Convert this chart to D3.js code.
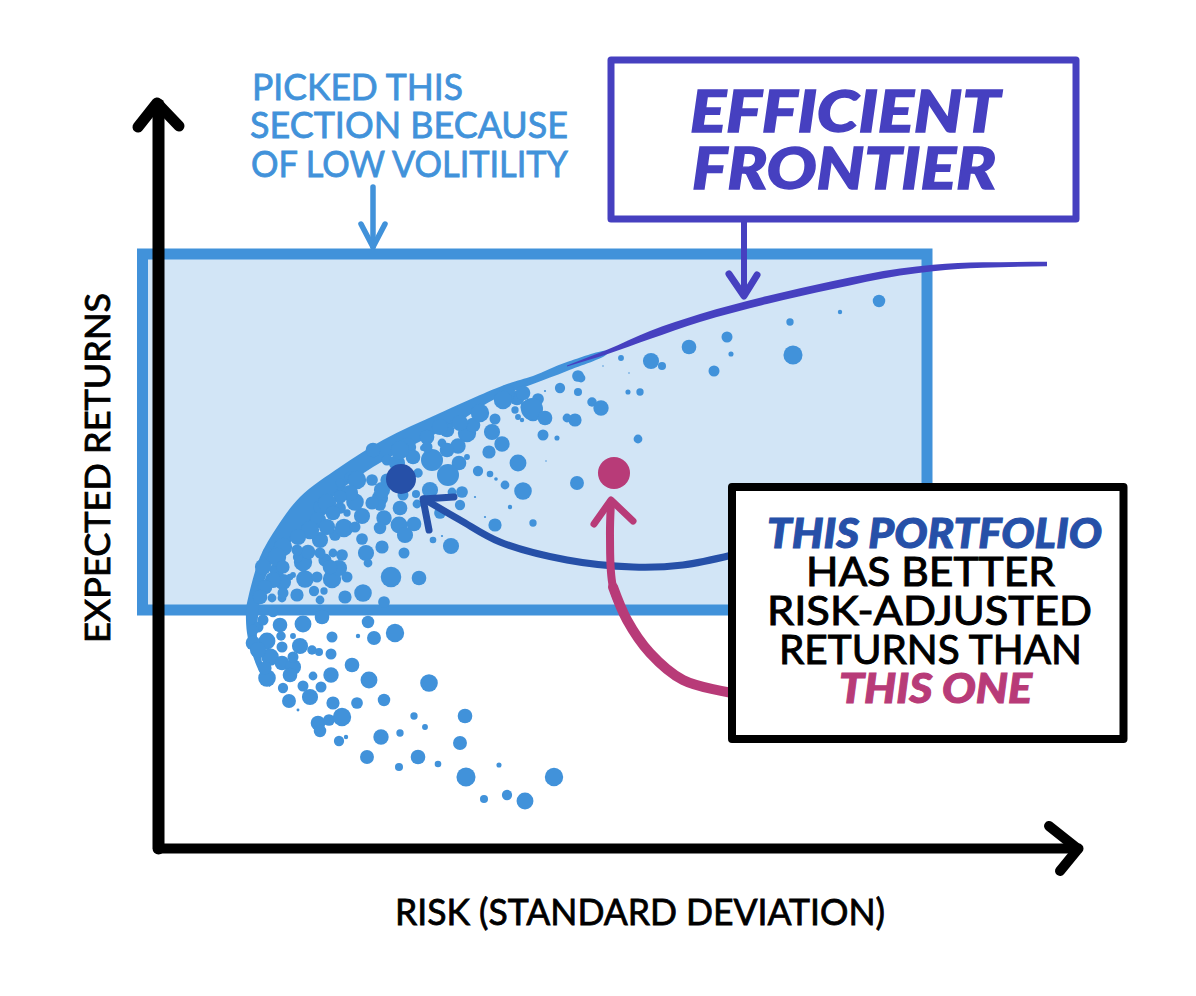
<!DOCTYPE html>
<html>
<head>
<meta charset="utf-8">
<script src="https://cdn.jsdelivr.net/npm/d3@7"></script>
<style>
  html, body { margin: 0; background: #fff; }
  svg { display: block; }
  text { font-family: Lato, "Open Sans", sans-serif; }
</style>
</head>
<body>
<div id="chart"></div>
<script>
// portfolios: [risk, return, size]
const portfolios = [
  [122,223,20],[145,224,23],[164,231,20],[210,226,17],[237,215,25],[100,221,15],[123,212,13],[135,212,8],
  [174,211,15],[200,212,6],[216,210,19],[109,207,23],[124,201,15],[142,202,22],[154,198,13],[161,196,11],
  [173,194,15],[112,191,24],[124,185,20],[135,181,22],[132,173,20],[194,183,20],[211,168,23],[271,165,24],
  [109,170,24],[125,160,14],[145,162,15],[155,172,12],[173,173,21],[163,161,15],[152,151,22],[131,147,19],
  [175,145,18],[199,145,16],[226,148,17],[140,138,4],[160,125,20],[162,117,17],[171,128,16],[184,131,25],
  [256,132,10],[267,121,8],[307,132,20],[181,107,14],[188,111,6],[223,111,21],[242,115,10],[302,105,19],
  [209,91,19],[260,91,20],[241,81,11],[280,84,9],[341,83,7],[308,71,26],[396,71,25],[326,49,11],[349,53,14],[367,47,23],
  [360,385,23],[365,357,24],[344,404,21],[331,396,18],[320,377,14],[332,374,9],[347,363,12],[338,369,5],
  [337,323,18],[352,341,6],[375,325,10],[327,331,3],[317,351,3],[334,416,22],[337,429,15],[309,415,25],
  [300,402,21],[284,405,12],[274,388,30],[301,385,20],[309,391,8],[290,373,30],[260,375,13],[272,358,22],
  [258,354,11],[304,356,16],[294,356,12],[302,343,14],[282,335,16],[245,353,15],[242,340,20],[259,344,12],
  [226,330,21],[222,320,17],[241,323,23],[256,324,20],[247,313,22],[204,332,22],[222,350,22],[222,343,16],
  [204,309,16],[224,301,18],[293,302,22],[275,308,9],[284,312,3],[246,295,15],[208,295,22],[210,285,12],
  [233,271,28],[261,270,20],[205,255,24],[226,246,16],[187,251,18],[156,257,14],[166,257,10],[139,253,18],
  [147,269,24],[174,269,25],[181,280,22],[167,288,18],[175,295,12],[184,293,16],[145,286,25],[150,296,20],
  [162,308,22],[177,313,16],[186,320,25],[197,321,15],[182,340,16],[189,335,10],[197,346,24],[214,368,16],
  [224,358,22],[184,358,14],[125,266,22],[119,278,20],[135,273,8],[124,250,12],[114,250,12],[162,248,12],
  [110,295,15],[140,291,14],[132,271,9],[164,338,15],[149,321,10],[357,438,10],[369,441,18],[375,436,25],
  [360,431,8],[364,428,6],[315,423,20],[295,425,8],[265,400,8],[215,398,20],[229,388,15],[249,401,25],
  [269,411,20],[289,418,20],[162,341,18],[139,311,15],[192,371,15],
  [721,547,17],[682,536,6],[632,526,10],[635,493,26],[569,511,15],[573,494,7],[531,501,20],[493,487,22],
  [504,482,11],[463,490,8],[556,477,15],[445,482,2],[471,475,2],[420,472,16],[423,470,12],[402,460,14],
  [420,456,11],[380,449,16],[374,439,30],[387,430,20],[434,446,13],[443,440,21],[470,456,7],[482,456,10],
  [417,428,18],[409,430,12],[385,413,15],[399,410,7],[480,409,12],[388,387,2],[419,365,19],[359,450,20],
  [349,455,22],[387,457,3],
  // the crowded part, blobs run together here
  [199,368,25],[192,355,22],[182,351,18],[169,345,25],[175,335,20],[160,328,22],[152,318,25],[169,321,22],
  [140,311,22],[139,298,15],[125,301,25],[119,291,25],[115,268,22],[105,281,22],[125,281,18],[107,261,20],
  [125,255,15],[102,251,20],[229,368,18],[239,385,22],[255,391,20],[269,401,15],[242,398,25],[289,398,20],
  [282,421,22],[302,425,22],[322,435,25],[345,448,25],[365,455,20],[214,345,18],[182,365,12],[162,295,15],
  [172,281,20],[189,271,15],[159,271,15],[95,205,20],[100,198,22],[95,218,15],[107,180,18],[135,191,15],
  [105,228,15],[115,236,14]
];
const betterPortfolio = [243, 369, 44];
const worsePortfolio = [456, 375, 47];

// crowded edge of the cloud: outer side then back along the inner side
const edgeOuter = [[112,161],[102,175],[94,195],[89,215],[88,238],[89,245],[102,291],[119,321],[142,351],[182,381],[225,408],[282,435],[349,464],[375,472],[409,486],[449,497]];
const edgeInner = [[449,494],[409,477],[375,464],[335,448],[299,425],[259,405],[215,381],[179,355],[155,328],[132,305],[112,281],[104,258],[100,231],[99,211],[102,198],[105,181]];
const frontier = [[409,482],[432,490],[449,496],[492,513],[542,530],[609,548],[675,563],[742,576],[775,580],[825,583],[889,584]];

const selectionRisk = [-15.5, 769];
const selectionReturn = [238, 594];

const titleLines = ["EFFICIENT", "FRONTIER"];
const noteLines = ["PICKED THIS", "SECTION BECAUSE", "OF LOW VOLITILITY"];
const boxLines = ["THIS PORTFOLIO", "HAS BETTER", "RISK-ADJUSTED", "RETURNS THAN", "THIS ONE"];
const xLabel = "RISK (STANDARD DEVIATION)";
const yLabel = "EXPECTED RETURNS";

const blue = "#4192da", paleBlue = "#d2e5f6", purple = "#4640c0", navy = "#2650a8", pink = "#b83b78";

const width = 1196, height = 996;
const x = d3.scaleLinear().domain([0, 920]).range([158, 1078]);
const y = d3.scaleLinear().domain([0, 744]).range([848, 104]);
const r = d3.scaleLinear().domain([0, 30]).range([0, 11]);

const svg = d3.select("#chart").append("svg")
  .attr("width", width).attr("height", height)
  .attr("viewBox", [0, 0, width, height]);

// low volatility section
svg.append("rect")
  .attr("x", x(selectionRisk[0])).attr("y", y(selectionReturn[1]))
  .attr("width", x(selectionRisk[1]) - x(selectionRisk[0]))
  .attr("height", y(selectionReturn[0]) - y(selectionReturn[1]))
  .attr("fill", paleBlue).attr("stroke", blue).attr("stroke-width", 11);

// cloud
svg.append("path")
  .attr("d", d3.line().x(d => x(d[0])).y(d => y(d[1])).curve(d3.curveCatmullRomClosed.alpha(0.5))(edgeOuter.concat(edgeInner)))
  .attr("fill", blue);
svg.append("g").selectAll("circle").data(portfolios).join("circle")
  .attr("cx", d => x(d[0])).attr("cy", d => y(d[1])).attr("r", d => r(d[2]))
  .attr("fill", blue);

// frontier tapers at both ends
const taper = d3.scaleLinear().domain([409, 492, 675, 889]).range([1, 8, 8, 4.5]);
svg.append("path")
  .attr("d", d3.area()
    .x(d => x(d[0]))
    .y0(d => y(d[1]) - taper(d[0]) / 2)
    .y1(d => y(d[1]) + taper(d[0]) / 2)
    .curve(d3.curveMonotoneX)(frontier))
  .attr("fill", purple);

svg.append("circle").attr("cx", x(betterPortfolio[0])).attr("cy", y(betterPortfolio[1])).attr("r", r(betterPortfolio[2]) * 0.93).attr("fill", navy);
svg.append("circle").attr("cx", x(worsePortfolio[0])).attr("cy", y(worsePortfolio[1])).attr("r", r(worsePortfolio[2]) * 0.93).attr("fill", pink);

// axes, no ticks on this one
const gx = svg.append("g").attr("transform", `translate(0,${y(0)})`)
  .call(d3.axisBottom(x).tickValues([]).tickSizeOuter(0));
gx.select(".domain").attr("stroke", "#000").attr("stroke-width", 10).attr("stroke-linecap", "round");
const gy = svg.append("g").attr("transform", `translate(${x(0)},0)`)
  .call(d3.axisLeft(y).tickValues([]).tickSizeOuter(0));
gy.select(".domain").attr("stroke", "#000").attr("stroke-width", 12).attr("stroke-linecap", "round");

function stroke(d, color, w) {
  return svg.append("path").attr("d", d).attr("fill", "none").attr("stroke", color)
    .attr("stroke-width", w).attr("stroke-linecap", "round").attr("stroke-linejoin", "round");
}
const px = d3.line();
const smooth = d3.line().curve(d3.curveCatmullRom.alpha(0.5));

stroke(px([[138, 127], [157, 103], [179, 126]]), "#000", 11);
stroke(px([[1049, 826], [1078, 849], [1060, 871]]), "#000", 10);

// annotation arrows
stroke(px([[373, 187], [373, 247]]), blue, 5.5);
stroke(px([[361, 224], [373, 247], [385, 224]]), blue, 5.5);
stroke(px([[744, 222], [744, 295]]), purple, 6);
stroke(px([[729, 274], [744, 296], [757, 275]]), purple, 7);
stroke(smooth([[732, 555], [683, 565], [633, 567], [567, 560], [500, 542], [460, 520], [424, 499]]), navy, 7);
stroke(px([[454, 497], [423, 499], [429, 530]]), navy, 7);
stroke(smooth([[611, 502], [610, 537], [613, 587], [627, 620]]), pink, 8);
stroke(smooth([[613, 587], [627, 620], [650, 653], [683, 680], [732, 693]]), pink, 10);
stroke(px([[594, 524], [611, 500], [633, 521]]), pink, 7);

// boxes
svg.append("rect").attr("x", 611).attr("y", 60).attr("width", 465).attr("height", 159)
  .attr("fill", "#fff").attr("stroke", purple).attr("stroke-width", 7).attr("stroke-linejoin", "round");
svg.append("rect").attr("x", 732).attr("y", 487).attr("width", 391.5).attr("height", 252)
  .attr("fill", "#fff").attr("stroke", "#000").attr("stroke-width", 8).attr("stroke-linejoin", "round");

function label(text, xPos, yPos, len, size, color, opts = {}) {
  return svg.append("text")
    .attr("x", xPos).attr("y", yPos)
    .attr("textLength", len).attr("lengthAdjust", "spacingAndGlyphs")
    .attr("font-size", size).attr("fill", color)
    .attr("stroke", opts.thick ? color : null).attr("stroke-width", opts.thick || null)
    .attr("font-weight", opts.weight || 400)
    .attr("font-style", opts.italic ? "italic" : "normal")
    .attr("transform", opts.transform || null)
    .text(text);
}

const heavy = { weight: 900, italic: true, thick: 1.4 };
label(titleLines[0], 690, 132, 310, 58, purple, heavy);
label(titleLines[1], 692, 189, 304, 58, purple, heavy);

label(noteLines[0], 252, 100, 211, 36, blue, { thick: 0.8 });
label(noteLines[1], 250, 138, 318, 36, blue, { thick: 0.8 });
label(noteLines[2], 251, 177, 317, 36, blue, { thick: 0.8 });

const boxHeavy = { weight: 900, italic: true, thick: 1 };
label(boxLines[0], 767, 548, 335, 41, navy, boxHeavy);
label(boxLines[1], 806, 586, 249, 41, "#000", { thick: 1 });
label(boxLines[2], 767, 625, 325, 41, "#000", { thick: 1 });
label(boxLines[3], 779, 664, 303, 41, "#000", { thick: 1 });
label(boxLines[4], 839, 703, 193, 41, pink, boxHeavy);

label(xLabel, 395, 925, 490, 36, "#000", { thick: 0.8 });
label(yLabel, 0, 0, 350, 34, "#000", { thick: 0.8, transform: "translate(110,643) rotate(-90)" });
</script>
</body>
</html>
